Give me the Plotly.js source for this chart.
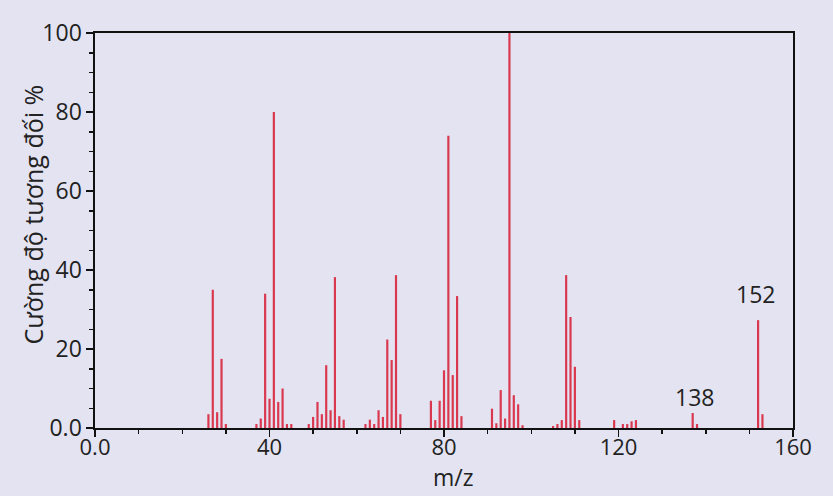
<!DOCTYPE html>
<html>
<head>
<meta charset="utf-8">
<script src="https://cdn.plot.ly/plotly-3.0.1.min.js"></script>
<style>
  html, body { margin: 0; padding: 0; background: #e3e3f1; }
  #chart { width: 833px; height: 496px; }
</style>
</head>
<body>
<div id="chart"></div>
<script>
// m/z values of the peaks
const mzValues = [
  26, 27, 28, 29, 30,
  37, 38, 39, 40, 41, 42, 43, 44, 45,
  49, 50, 51, 52, 53, 54, 55, 56, 57,
  62, 63, 64, 65, 66, 67, 68, 69, 70,
  77, 78, 79, 80, 81, 82, 83, 84,
  91, 92, 93, 94, 95, 96, 97, 98,
  105, 106, 107, 108, 109, 110, 111,
  119, 121, 122, 123, 124,
  137, 138, 152, 153
];
// relative intensities (%)
const intensities = [
  3.5, 35, 4, 17.5, 1,
  1, 2.4, 34, 7.4, 80, 6.6, 10, 1, 1,
  1, 2.8, 6.6, 3.5, 15.9, 4.5, 38.2, 3, 2.1,
  1, 2.1, 1, 4.5, 2.8, 22.4, 17.2, 38.7, 3.5,
  6.9, 2, 6.9, 14.6, 74, 13.4, 33.4, 3,
  4.9, 1.2, 9.6, 2.4, 100, 8.3, 6, 0.7,
  0.5, 1, 2, 38.7, 28.1, 15.5, 2,
  2, 1, 1, 1.7, 2,
  3.8, 1, 27.3, 3.5
];
// tick labels
const xTickVals = [0, 40, 80, 120, 160];
const xTickText = ['0.0', '40', '80', '120', '160'];
const yTickVals = [0, 20, 40, 60, 80, 100];
const yTickText = ['0.0', '20', '40', '60', '80', '100'];
// axis titles
const xTitle = 'm/z';
const yTitle = 'Cường độ tương đối %';
// labelled peaks
const labelText = ['138', '152'];
const labelX = [137.4, 151.5];
const labelY = [7.8, 33.8];

const family = '"Open Sans", "Noto Sans", sans-serif';
const tickFont = {family: family, size: 23, color: '#222'};
const xTickFont = {family: family, size: 22, color: '#222'};
const titleFont = {family: family, size: 25, color: '#222'};

const trace = {
  type: 'bar',
  x: mzValues,
  y: intensities,
  width: 0.5,
  marker: {color: '#d9384f', line: {width: 0}},
  hoverinfo: 'x+y'
};

const peakLabels = labelText.map((t, i) => ({
  x: labelX[i], y: labelY[i], xref: 'x', yref: 'y',
  text: t, showarrow: false, xanchor: 'center', yanchor: 'middle',
  font: tickFont
}));

const titleLabels = [
  {x: 0.513, y: -0.168, xref: 'paper', yref: 'paper', text: xTitle,
   showarrow: false, xanchor: 'center', yanchor: 'bottom', borderpad: 0,
   font: {family: family, size: 23, color: '#222'}},
  {x: -0.089, y: 0.54, xref: 'paper', yref: 'paper', text: yTitle, textangle: -90,
   showarrow: false, xanchor: 'center', yanchor: 'middle', font: titleFont}
];

const layout = {
  width: 833,
  height: 496,
  margin: {l: 95, r: 40, t: 33, b: 68},
  paper_bgcolor: '#e3e3f1',
  plot_bgcolor: '#e3e3f1',
  showlegend: false,
  font: tickFont,
  xaxis: {
    range: [0, 160],
    tickmode: 'array',
    tickvals: xTickVals,
    ticktext: xTickText,
    ticks: 'outside',
    ticklen: 7,
    tickwidth: 1.5,
    tickcolor: '#111',
    ticklabelstandoff: -8,
    showline: true,
    linewidth: 1.6,
    linecolor: '#111',
    mirror: true,
    showgrid: false,
    zeroline: false,
    tickfont: xTickFont,
    minor: {dtick: 10, tick0: 0, ticks: 'outside', ticklen: 4, tickwidth: 1.5, tickcolor: '#111', showgrid: false}
  },
  yaxis: {
    range: [0, 100],
    tickmode: 'array',
    tickvals: yTickVals,
    ticktext: yTickText,
    ticks: 'outside',
    ticklen: 7,
    tickwidth: 1.5,
    tickcolor: '#111',
    showline: true,
    linewidth: 1.6,
    linecolor: '#111',
    mirror: true,
    showgrid: false,
    zeroline: false,
    tickfont: tickFont,
    minor: {dtick: 5, tick0: 0, ticks: 'outside', ticklen: 4, tickwidth: 1.5, tickcolor: '#111', showgrid: false}
  },
  annotations: peakLabels.concat(titleLabels)
};

Plotly.newPlot('chart', [trace], layout, {displayModeBar: false, staticPlot: true});
</script>
</body>
</html>
